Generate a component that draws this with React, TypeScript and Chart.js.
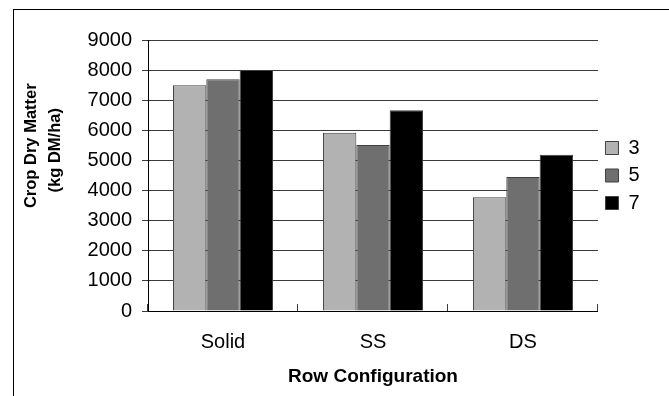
import React, { useEffect, useRef } from "react";
import { Chart, registerables } from "chart.js";

Chart.register(...registerables);

// ---- data ----
const categories = ["Solid", "SS", "DS"];
const seriesLabels = ["3", "5", "7"];
const series3 = [7500, 5920, 3780];
const series5 = [7700, 5510, 4450];
const series7 = [8000, 6670, 5190];
const yMin = 0;
const yMax = 9000;
const yStep = 1000;
const xTitle = "Row Configuration";
const yTitleLines = ["Crop Dry Matter", "(kg DM/ha)"];
const seriesColors = ["#b2b2b2", "#6f6f6f", "#000000"];

const FONT = "'Liberation Sans', Arial, Helvetica, sans-serif";

const framePlugin = {
  id: "outerFrame",
  beforeDraw(chart: any) {
    const ctx = chart.ctx;
    ctx.save();
    ctx.fillStyle = "#ffffff";
    ctx.fillRect(0, 0, chart.width, chart.height);
    ctx.strokeStyle = "#000000";
    ctx.lineWidth = 1;
    ctx.strokeRect(13.5, 9.5, 900, 700);
    ctx.restore();
  },
};

export default function App() {
  const ref = useRef<HTMLCanvasElement | null>(null);

  useEffect(() => {
    if (!ref.current) return;
    const seriesData = [series3, series5, series7];
    const chart = new Chart(ref.current, {
      type: "bar",
      data: {
        labels: categories,
        datasets: seriesData.map((d, i) => ({
          label: seriesLabels[i],
          data: d,
          backgroundColor: seriesColors[i],
          borderColor: "#404040",
          borderWidth: 1,
          categoryPercentage: 0.667,
          barPercentage: 1,
        })),
      },
      options: {
        responsive: false,
        animation: false,
        devicePixelRatio: 1,
        layout: { padding: { left: 0, top: 40, right: 19.4, bottom: 0 } },
        plugins: {
          tooltip: { enabled: false },
          legend: {
            position: "right",
            fullSize: false,
            labels: {
              boxWidth: 13,
              boxHeight: 13,
              padding: 7.5,
              color: "#000",
              font: { family: FONT, size: 20 },
            },
          },
        },
        scales: {
          x: {
            ticks: { color: "#000", font: { family: FONT, size: 20 }, padding: 26 },
            grid: {
              display: true,
              drawOnChartArea: false,
              drawTicks: true,
              tickLength: -7,
              color: "#3a3a3a",
            },
            border: { display: true, color: "#000", width: 1 },
            title: {
              display: true,
              text: xTitle,
              color: "#000",
              font: { family: FONT, size: 19, weight: "bold" },
              padding: { top: 0, bottom: 8 },
            },
            afterFit: (s: any) => {
              s.height = 85;
            },
          },
          y: {
            min: yMin,
            max: yMax,
            ticks: {
              stepSize: yStep,
              color: "#000",
              font: { family: FONT, size: 20 },
              padding: 10,
              callback: (v: any) => String(v),
            },
            grid: { color: "#3a3a3a", lineWidth: 1, tickLength: 6 },
            border: { display: true, color: "#000", width: 1 },
            title: {
              display: true,
              text: [
                " ".repeat(13) + yTitleLines[0],
                " ".repeat(11) + yTitleLines[1],
              ],
              color: "#000",
              font: { family: FONT, size: 16.5, weight: "bold", lineHeight: 1.45 },
              padding: { top: 19.5, bottom: 0 },
            },
            afterFit: (s: any) => {
              s.width = 148;
            },
          },
        },
      },
      plugins: [framePlugin],
    } as any);
    return () => chart.destroy();
  }, []);

  return (
    <div style={{ position: "absolute", left: 0, top: 0, width: 669, height: 396 }}>
      <canvas ref={ref} width={669} height={396} style={{ display: "block" }} />
    </div>
  );
}
